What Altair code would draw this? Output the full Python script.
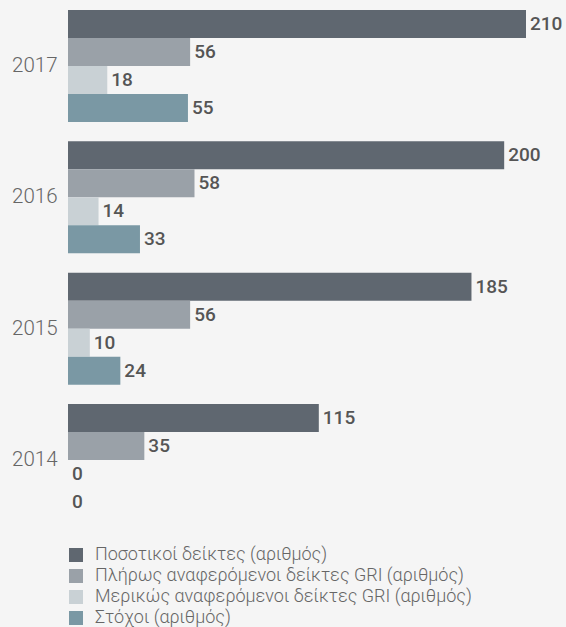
import altair as alt
import pandas as pd

years = ["2017", "2016", "2015", "2014"]
series = [
    "Ποσοτικοί δείκτες (αριθμός)",
    "Πλήρως αναφερόμενοι δείκτες GRI (αριθμός)",
    "Μερικώς αναφερόμενοι δείκτες GRI (αριθμός)",
    "Στόχοι (αριθμός)",
]
quant = [210, 200, 185, 115]
full_gri = [56, 58, 56, 35]
partial_gri = [18, 14, 10, 0]
targets = [55, 33, 24, 0]
colors = ["#5f6770", "#9aa1a8", "#c9d1d5", "#7a98a4"]

rows = []
for i, y in enumerate(years):
    for s, vals in zip(series, [quant, full_gri, partial_gri, targets]):
        rows.append({"year": y, "series": s, "value": vals[i]})
df = pd.DataFrame(rows)

y_enc = alt.Y("year:N", sort=years, title=None,
              scale=alt.Scale(paddingInner=0.147, paddingOuter=0.076),
              axis=alt.Axis(ticks=False, domain=False, labelPadding=11,
                            labelFont="Roboto", labelFontSize=20.5, labelFontWeight=300,
                            labelColor="#666666"))
yoff = alt.YOffset("series:N", sort=series, scale=alt.Scale(paddingInner=0, paddingOuter=0))
x_enc = alt.X("value:Q", scale=alt.Scale(domain=[0, 210], nice=False), axis=None)

bars = alt.Chart(df).mark_bar().encode(
    x=x_enc, y=y_enc, yOffset=yoff,
    color=alt.Color("series:N", sort=series,
                    scale=alt.Scale(domain=series, range=colors),
                    legend=alt.Legend(title=None, orient="none", legendX=-1, legendY=546,
                                      symbolType="square", symbolSize=196,
                                      symbolStrokeWidth=0, symbolOpacity=1,
                                      labelFont="Roboto", labelFontSize=18,
                                      labelFontWeight=300, labelColor="#666666",
                                      labelLimit=600,
                                      rowPadding=3, labelOffset=10)),
)

labels = alt.Chart(df).mark_text(align="left", baseline="middle", dx=4,
                                 font="Roboto", fontSize=19, fontWeight=500,
                                 color="#555555").encode(
    x=x_enc, y=y_enc, yOffset=yoff, text="value:Q",
)

chart = alt.layer(bars, labels).properties(
    width=458, height=526,
    autosize=alt.AutoSizeParams(type="none"),
    padding={"left": 68, "top": 0, "right": 40, "bottom": 101},
    background="#f5f5f5",
).configure_view(stroke=None)

chart.save("out.html", embed_options={"renderer": "svg", "actions": False})
